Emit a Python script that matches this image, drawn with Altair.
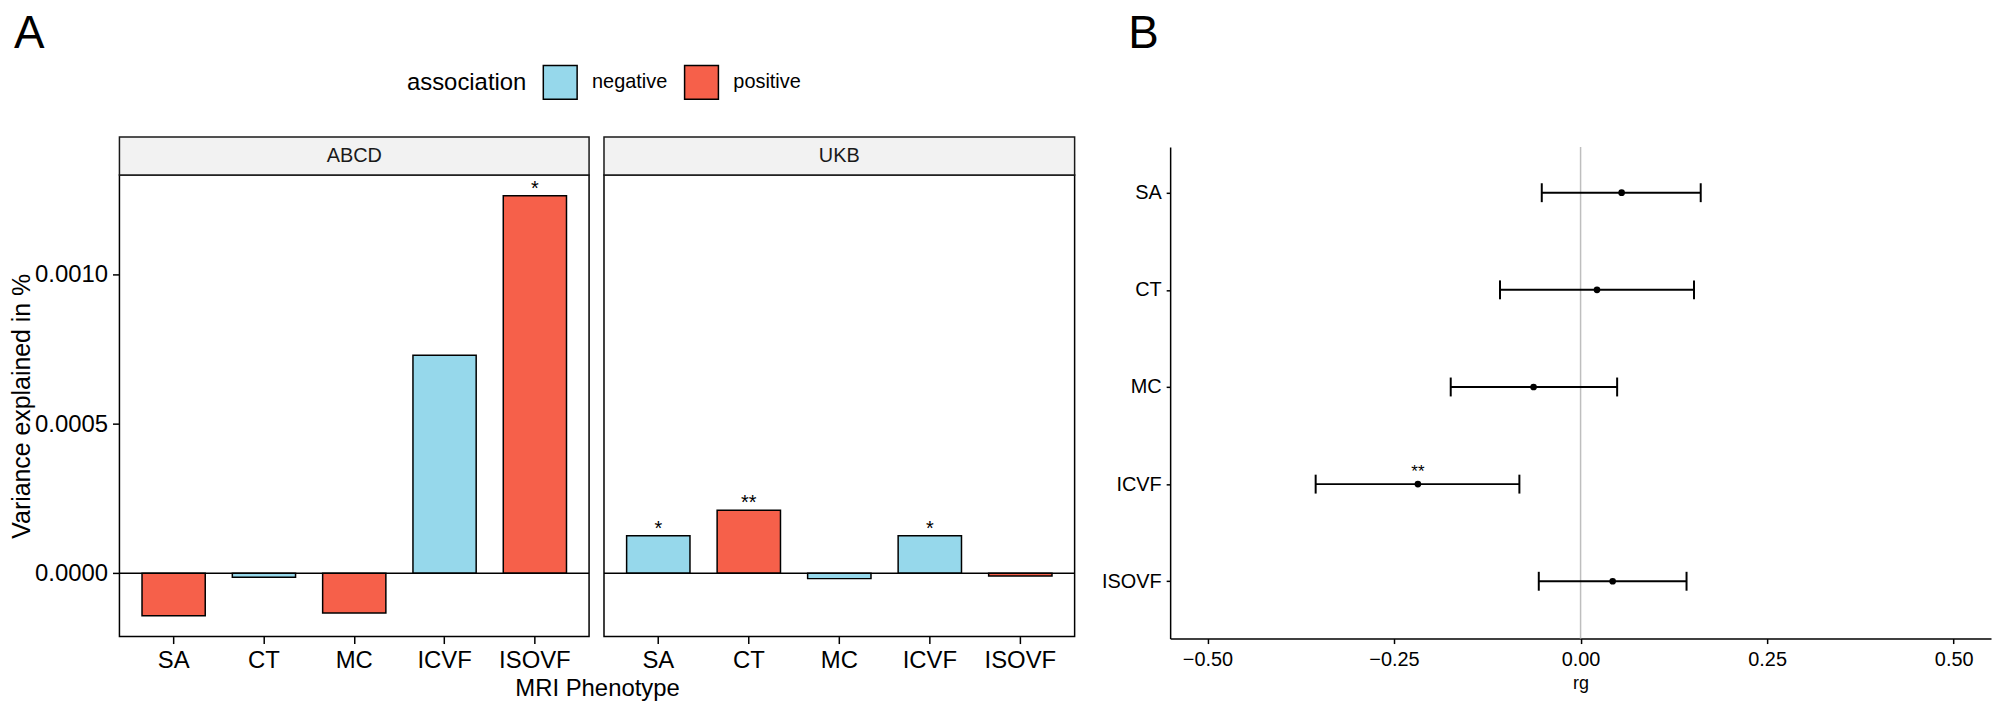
import altair as alt
import pandas as pd

FONT = "Liberation Sans"

# ---------------- data ----------------
phenotypes = ["SA", "CT", "MC", "ICVF", "ISOVF"]
cohorts = ["ABCD", "UKB"]
assoc_levels = ["negative", "positive"]
assoc_colors = ["#96D8EB", "#F6604A"]

abcd_values = [-0.000142, -0.0000133, -0.000133, 0.000731, 0.001265]
abcd_assoc = ["positive", "negative", "positive", "negative", "positive"]
abcd_sig = ["", "", "", "", "*"]

ukb_values = [0.000126, 0.000211, -0.0000178, 0.000126, -0.0000089]
ukb_assoc = ["negative", "positive", "negative", "negative", "positive"]
ukb_sig = ["*", "**", "", "*", ""]

rg_est = [0.055, 0.022, -0.063, -0.218, 0.043]
rg_low = [-0.052, -0.108, -0.174, -0.355, -0.056]
rg_high = [0.161, 0.152, 0.049, -0.082, 0.142]
rg_sig = ["", "", "", "**", ""]

y_ticks_a = [0.0, 0.0005, 0.0010]
x_ticks_b = [-0.50, -0.25, 0.00, 0.25, 0.50]

# ---------------- layout constants ----------------
W_A1 = 472
W_A2 = 473
GAP_A = 15
H_A = 464
STRIP_H = 38
W_B = 825
H_B = 494
Y_DOMAIN_A = [-0.000212, 0.001335]
TOP_SHIFT = 28  # panel A plot starts this much lower than panel B plot
TOP_PAD = 0

LEGEND = alt.Legend(
    orient="none", legendX=289, legendY=-83, direction="horizontal",
    title="association", titleOrient="left", titleFontSize=24, titleFont=FONT,
    titleFontWeight="normal", titleColor="black", titlePadding=15,
    titleBaseline="middle",
    labelFontSize=20, labelFont=FONT, labelColor="black", labelOffset=14,
    columnPadding=14, symbolType="square", symbolSize=1156,
    symbolStrokeColor="black", symbolStrokeWidth=1.5, symbolOpacity=1,
)


def x_axis_a(with_title):
    common = dict(labelAngle=0, labelFontSize=24, labelFont=FONT,
                  labelColor="black", labelPadding=5, tickSize=7,
                  tickColor="black", tickWidth=1.5, domain=False, grid=False)
    if with_title:
        return alt.Axis(title="MRI Phenotype", titleFontSize=24, titleFont=FONT,
                        titleFontWeight="normal", titleColor="black",
                        titlePadding=4, titleX=(W_A1 + GAP_A + W_A2) / 2,
                        titleAlign="center", **common)
    return alt.Axis(title=None, **common)


def y_axis_a():
    return alt.Axis(values=y_ticks_a, format=".4f", title="Variance explained in %",
                    titleFontSize=25, titleFont=FONT, titleFontWeight="normal",
                    titleColor="black", titlePadding=0, labelFontSize=24,
                    labelFont=FONT, labelColor="black", labelPadding=5,
                    tickSize=7, tickColor="black", tickWidth=1.5,
                    domain=False, grid=False)


def bar_panel(cohort, values, assoc, sig, width, first, title=None):
    df = pd.DataFrame({"phenotype": phenotypes, "value": values,
                       "association": assoc, "sig": sig})
    strip_df = pd.DataFrame({"cohort": [cohort], "zero": [0.0]})
    x = alt.X("phenotype:N", sort=phenotypes,
              scale=alt.Scale(domain=phenotypes, paddingInner=0.3, paddingOuter=0.25),
              axis=x_axis_a(first))
    yscale = alt.Scale(domain=Y_DOMAIN_A, nice=False)
    if first:
        y = alt.Y("value:Q", scale=yscale, axis=y_axis_a())
        yz = alt.Y("zero:Q", scale=yscale, axis=y_axis_a())
    else:
        y = alt.Y("value:Q", scale=yscale, axis=None)
        yz = alt.Y("zero:Q", scale=yscale, axis=None)
    color = alt.Color("association:N",
                      scale=alt.Scale(domain=assoc_levels, range=assoc_colors),
                      legend=LEGEND)
    base = alt.Chart(df)
    bars = base.mark_bar(stroke="black", strokeWidth=1.5, opacity=1).encode(
        x=x, y=y, color=color)
    zero = alt.Chart(strip_df).mark_rule(color="black", strokeWidth=1.5).encode(y=yz)
    stars = base.mark_text(fontSize=20, font=FONT, baseline="alphabetic", dy=-1,
                           color="black").encode(x=x, y=y, text="sig:N")
    strip = alt.Chart(strip_df).mark_rect(fill="#F2F2F2", stroke="#1A1A1A",
                                          strokeWidth=1.5).encode(
        x=alt.value(0), x2=alt.value(width), y=alt.value(-STRIP_H), y2=alt.value(0))
    strip_text = alt.Chart(strip_df).mark_text(fontSize=20, font=FONT, color="#1A1A1A",
                                               baseline="middle").encode(
        x=alt.value(width / 2), y=alt.value(-STRIP_H / 2), text="cohort:N")
    layer = alt.layer(bars, zero, stars, strip, strip_text).properties(
        width=width, height=H_A,
        view=alt.ViewBackground(stroke="black", strokeWidth=1.5, fill="white"))
    if title is not None:
        layer = layer.properties(title=title)
    return layer


title_a = alt.TitleParams("A", anchor="start", frame="group", dx=-106,
                          offset=79 - TOP_PAD,
                          fontSize=46, font=FONT, fontWeight="normal", color="black")
abcd = bar_panel(cohorts[0], abcd_values, abcd_assoc, abcd_sig, W_A1, True, title_a)
ukb = bar_panel(cohorts[1], ukb_values, ukb_assoc, ukb_sig, W_A2, False)

inner_a = alt.hconcat(abcd, ukb, spacing=GAP_A, bounds="flush")

spacer = alt.Chart(pd.DataFrame({"v": [0]})).mark_point(opacity=0).encode(
    x=alt.value(0), y=alt.value(0)).properties(
    width=100, height=TOP_SHIFT, view=alt.ViewBackground(stroke="transparent"))

panel_a = alt.vconcat(spacer, inner_a, spacing=0, bounds="flush")

# ---------------- panel B ----------------
dfB = pd.DataFrame({"idx": list(range(len(phenotypes))), "phenotype": phenotypes,
                    "rg": rg_est, "low": rg_low, "high": rg_high, "sig": rg_sig})
zero_df = pd.DataFrame({"zero": [0.0]})
label_expr = "[" + ",".join("'" + p + "'" for p in phenotypes) + "][datum.value]"

xs = alt.Scale(domain=[-0.55, 0.55], nice=False, zero=False)


def x_axis_b():
    return alt.Axis(values=x_ticks_b, format=".2f", title="rg", titleFontSize=18,
                    titleFont=FONT, titleFontWeight="normal", titleColor="black",
                    titlePadding=5, labelFontSize=20, labelFont=FONT,
                    labelColor="black", labelPadding=6, tickSize=5,
                    tickColor="black", tickWidth=1.5, domain=True,
                    domainColor="black", domainWidth=1.5, grid=False)


ys = alt.Scale(domain=[-0.47, 4.59], reverse=True, nice=False, zero=False)
y_axis_b = alt.Axis(values=list(range(len(phenotypes))), labelExpr=label_expr,
                    title=None, labelFontSize=20, labelFont=FONT, labelColor="black",
                    labelPadding=5, tickSize=4, tickColor="black", tickWidth=1.5,
                    domain=True, domainColor="black", domainWidth=1.5, grid=False)


def xb(field):
    return alt.X(field + ":Q", scale=xs, axis=x_axis_b())


yb = alt.Y("idx:Q", scale=ys, axis=y_axis_b)

vline = alt.Chart(zero_df).mark_rule(color="#BEBEBE", strokeWidth=1.5).encode(x=xb("zero"))
bar_line = alt.Chart(dfB).mark_rule(color="black", strokeWidth=2).encode(
    x=xb("low"), x2="high:Q", y=yb)
cap_lo = alt.Chart(dfB).mark_tick(color="black", orient="vertical", size=19,
                                  thickness=2, opacity=1).encode(x=xb("low"), y=yb)
cap_hi = alt.Chart(dfB).mark_tick(color="black", orient="vertical", size=19,
                                  thickness=2, opacity=1).encode(x=xb("high"), y=yb)
pts = alt.Chart(dfB).mark_circle(color="black", size=45, opacity=1).encode(x=xb("rg"), y=yb)
sig_b = alt.Chart(dfB).mark_text(fontSize=17, font=FONT, baseline="alphabetic", dy=-7,
                                 color="black").encode(x=xb("rg"), y=yb, text="sig:N")

title_b = alt.TitleParams("B", anchor="start", frame="group", dx=-42,
                          offset=89 - TOP_PAD,
                          fontSize=46, font=FONT, fontWeight="normal", color="black")
panel_b = alt.layer(vline, bar_line, cap_lo, cap_hi, pts, sig_b).properties(
    width=W_B, height=H_B, title=title_b,
    view=alt.ViewBackground(stroke="transparent", fill="white"))

chart = alt.hconcat(panel_a, panel_b, spacing=24).properties(
    padding={"top": TOP_PAD, "left": 0, "right": 0, "bottom": 0},
    background="white"
).configure(font=FONT)

chart.save("out.html", embed_options={"renderer": "svg", "actions": False})
